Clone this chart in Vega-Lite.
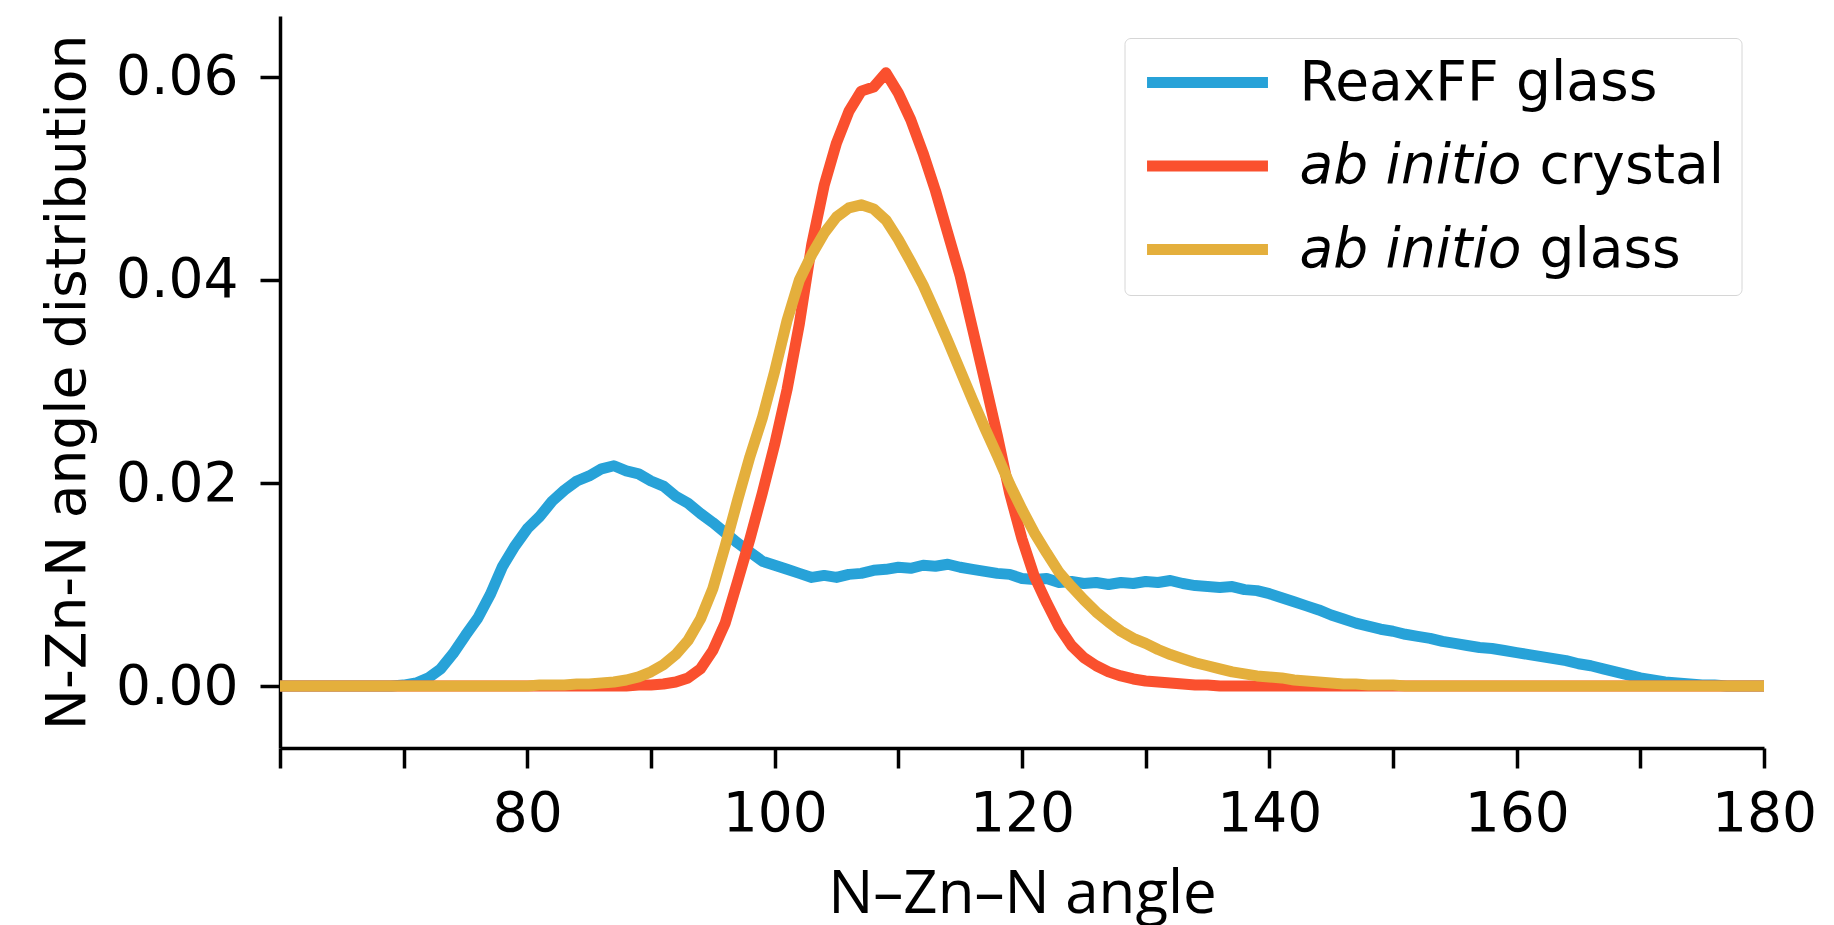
{
  "$schema": "https://vega.github.io/schema/vega-lite/v6.json",
  "width": 1484,
  "height": 732,
  "autosize": {"type": "none"},
  "padding": {"left": 280, "top": 16, "right": 70, "bottom": 177},
  "background": "white",
  "data": {
    "values": [
      {"angle":60,"ReaxFF glass":0,"ab initio crystal":0,"ab initio glass":0},
      {"angle":61,"ReaxFF glass":0,"ab initio crystal":0,"ab initio glass":0},
      {"angle":62,"ReaxFF glass":0,"ab initio crystal":0,"ab initio glass":0},
      {"angle":63,"ReaxFF glass":0,"ab initio crystal":0,"ab initio glass":0},
      {"angle":64,"ReaxFF glass":0,"ab initio crystal":0,"ab initio glass":0},
      {"angle":65,"ReaxFF glass":0,"ab initio crystal":0,"ab initio glass":0},
      {"angle":66,"ReaxFF glass":0,"ab initio crystal":0,"ab initio glass":0},
      {"angle":67,"ReaxFF glass":0,"ab initio crystal":0,"ab initio glass":0},
      {"angle":68,"ReaxFF glass":0,"ab initio crystal":0,"ab initio glass":0},
      {"angle":69,"ReaxFF glass":0,"ab initio crystal":0,"ab initio glass":0},
      {"angle":70,"ReaxFF glass":0.0001,"ab initio crystal":0,"ab initio glass":0},
      {"angle":71,"ReaxFF glass":0.0003,"ab initio crystal":0,"ab initio glass":0},
      {"angle":72,"ReaxFF glass":0.0008,"ab initio crystal":0,"ab initio glass":0},
      {"angle":73,"ReaxFF glass":0.0017,"ab initio crystal":0,"ab initio glass":0},
      {"angle":74,"ReaxFF glass":0.0032,"ab initio crystal":0,"ab initio glass":0},
      {"angle":75,"ReaxFF glass":0.0050,"ab initio crystal":0,"ab initio glass":0},
      {"angle":76,"ReaxFF glass":0.0067,"ab initio crystal":0,"ab initio glass":0},
      {"angle":77,"ReaxFF glass":0.0090,"ab initio crystal":0,"ab initio glass":0},
      {"angle":78,"ReaxFF glass":0.0118,"ab initio crystal":0,"ab initio glass":0},
      {"angle":79,"ReaxFF glass":0.0138,"ab initio crystal":0,"ab initio glass":0},
      {"angle":80,"ReaxFF glass":0.0155,"ab initio crystal":0,"ab initio glass":0},
      {"angle":81,"ReaxFF glass":0.0167,"ab initio crystal":0,"ab initio glass":0.0001},
      {"angle":82,"ReaxFF glass":0.0182,"ab initio crystal":0,"ab initio glass":0.0001},
      {"angle":83,"ReaxFF glass":0.0193,"ab initio crystal":0,"ab initio glass":0.0001},
      {"angle":84,"ReaxFF glass":0.0202,"ab initio crystal":0,"ab initio glass":0.0002},
      {"angle":85,"ReaxFF glass":0.0207,"ab initio crystal":0,"ab initio glass":0.0002},
      {"angle":86,"ReaxFF glass":0.0214,"ab initio crystal":0,"ab initio glass":0.0003},
      {"angle":87,"ReaxFF glass":0.0217,"ab initio crystal":0,"ab initio glass":0.0004},
      {"angle":88,"ReaxFF glass":0.0212,"ab initio crystal":0,"ab initio glass":0.0006},
      {"angle":89,"ReaxFF glass":0.0209,"ab initio crystal":0.0001,"ab initio glass":0.0009},
      {"angle":90,"ReaxFF glass":0.0202,"ab initio crystal":0.0001,"ab initio glass":0.0014},
      {"angle":91,"ReaxFF glass":0.0197,"ab initio crystal":0.0002,"ab initio glass":0.0021},
      {"angle":92,"ReaxFF glass":0.0187,"ab initio crystal":0.0004,"ab initio glass":0.0031},
      {"angle":93,"ReaxFF glass":0.0180,"ab initio crystal":0.0008,"ab initio glass":0.0045},
      {"angle":94,"ReaxFF glass":0.0170,"ab initio crystal":0.0017,"ab initio glass":0.0066},
      {"angle":95,"ReaxFF glass":0.0161,"ab initio crystal":0.0035,"ab initio glass":0.0096},
      {"angle":96,"ReaxFF glass":0.0151,"ab initio crystal":0.0062,"ab initio glass":0.0138},
      {"angle":97,"ReaxFF glass":0.0141,"ab initio crystal":0.0103,"ab initio glass":0.0183},
      {"angle":98,"ReaxFF glass":0.0132,"ab initio crystal":0.0145,"ab initio glass":0.0226},
      {"angle":99,"ReaxFF glass":0.0123,"ab initio crystal":0.0190,"ab initio glass":0.0264},
      {"angle":100,"ReaxFF glass":0.0119,"ab initio crystal":0.0238,"ab initio glass":0.0310},
      {"angle":101,"ReaxFF glass":0.0115,"ab initio crystal":0.0292,"ab initio glass":0.0360},
      {"angle":102,"ReaxFF glass":0.0111,"ab initio crystal":0.0357,"ab initio glass":0.0400},
      {"angle":103,"ReaxFF glass":0.0107,"ab initio crystal":0.0435,"ab initio glass":0.0425},
      {"angle":104,"ReaxFF glass":0.0109,"ab initio crystal":0.0493,"ab initio glass":0.0446},
      {"angle":105,"ReaxFF glass":0.0107,"ab initio crystal":0.0535,"ab initio glass":0.0462},
      {"angle":106,"ReaxFF glass":0.0110,"ab initio crystal":0.0566,"ab initio glass":0.0471},
      {"angle":107,"ReaxFF glass":0.0111,"ab initio crystal":0.0586,"ab initio glass":0.0474},
      {"angle":108,"ReaxFF glass":0.0114,"ab initio crystal":0.0590,"ab initio glass":0.0470},
      {"angle":109,"ReaxFF glass":0.0115,"ab initio crystal":0.0604,"ab initio glass":0.0459},
      {"angle":110,"ReaxFF glass":0.0117,"ab initio crystal":0.0584,"ab initio glass":0.0440},
      {"angle":111,"ReaxFF glass":0.0116,"ab initio crystal":0.0558,"ab initio glass":0.0418},
      {"angle":112,"ReaxFF glass":0.0119,"ab initio crystal":0.0525,"ab initio glass":0.0395},
      {"angle":113,"ReaxFF glass":0.0118,"ab initio crystal":0.0488,"ab initio glass":0.0368},
      {"angle":114,"ReaxFF glass":0.0120,"ab initio crystal":0.0446,"ab initio glass":0.0340},
      {"angle":115,"ReaxFF glass":0.0117,"ab initio crystal":0.0404,"ab initio glass":0.0311},
      {"angle":116,"ReaxFF glass":0.0115,"ab initio crystal":0.0352,"ab initio glass":0.0282},
      {"angle":117,"ReaxFF glass":0.0113,"ab initio crystal":0.0300,"ab initio glass":0.0254},
      {"angle":118,"ReaxFF glass":0.0111,"ab initio crystal":0.0247,"ab initio glass":0.0227},
      {"angle":119,"ReaxFF glass":0.0110,"ab initio crystal":0.0190,"ab initio glass":0.0199},
      {"angle":120,"ReaxFF glass":0.0106,"ab initio crystal":0.0145,"ab initio glass":0.0174},
      {"angle":121,"ReaxFF glass":0.0105,"ab initio crystal":0.0108,"ab initio glass":0.0151},
      {"angle":122,"ReaxFF glass":0.0106,"ab initio crystal":0.0082,"ab initio glass":0.0131},
      {"angle":123,"ReaxFF glass":0.0102,"ab initio crystal":0.0058,"ab initio glass":0.0112},
      {"angle":124,"ReaxFF glass":0.0103,"ab initio crystal":0.0040,"ab initio glass":0.0098},
      {"angle":125,"ReaxFF glass":0.0101,"ab initio crystal":0.0028,"ab initio glass":0.0085},
      {"angle":126,"ReaxFF glass":0.0102,"ab initio crystal":0.0020,"ab initio glass":0.0073},
      {"angle":127,"ReaxFF glass":0.0100,"ab initio crystal":0.0014,"ab initio glass":0.0063},
      {"angle":128,"ReaxFF glass":0.0102,"ab initio crystal":0.0010,"ab initio glass":0.0054},
      {"angle":129,"ReaxFF glass":0.0101,"ab initio crystal":0.0007,"ab initio glass":0.0047},
      {"angle":130,"ReaxFF glass":0.0103,"ab initio crystal":0.0005,"ab initio glass":0.0042},
      {"angle":131,"ReaxFF glass":0.0102,"ab initio crystal":0.0004,"ab initio glass":0.0036},
      {"angle":132,"ReaxFF glass":0.0104,"ab initio crystal":0.0003,"ab initio glass":0.0031},
      {"angle":133,"ReaxFF glass":0.0101,"ab initio crystal":0.0002,"ab initio glass":0.0027},
      {"angle":134,"ReaxFF glass":0.0099,"ab initio crystal":0.0001,"ab initio glass":0.0023},
      {"angle":135,"ReaxFF glass":0.0098,"ab initio crystal":0.0001,"ab initio glass":0.0020},
      {"angle":136,"ReaxFF glass":0.0097,"ab initio crystal":0,"ab initio glass":0.0017},
      {"angle":137,"ReaxFF glass":0.0098,"ab initio crystal":0,"ab initio glass":0.0014},
      {"angle":138,"ReaxFF glass":0.0095,"ab initio crystal":0,"ab initio glass":0.0012},
      {"angle":139,"ReaxFF glass":0.0094,"ab initio crystal":0,"ab initio glass":0.0010},
      {"angle":140,"ReaxFF glass":0.0091,"ab initio crystal":0,"ab initio glass":0.0009},
      {"angle":141,"ReaxFF glass":0.0087,"ab initio crystal":0,"ab initio glass":0.0008},
      {"angle":142,"ReaxFF glass":0.0083,"ab initio crystal":0,"ab initio glass":0.0006},
      {"angle":143,"ReaxFF glass":0.0079,"ab initio crystal":0,"ab initio glass":0.0005},
      {"angle":144,"ReaxFF glass":0.0075,"ab initio crystal":0,"ab initio glass":0.0004},
      {"angle":145,"ReaxFF glass":0.0070,"ab initio crystal":0,"ab initio glass":0.0003},
      {"angle":146,"ReaxFF glass":0.0066,"ab initio crystal":0,"ab initio glass":0.0002},
      {"angle":147,"ReaxFF glass":0.0062,"ab initio crystal":0,"ab initio glass":0.0002},
      {"angle":148,"ReaxFF glass":0.0059,"ab initio crystal":0,"ab initio glass":0.0001},
      {"angle":149,"ReaxFF glass":0.0056,"ab initio crystal":0,"ab initio glass":0.0001},
      {"angle":150,"ReaxFF glass":0.0054,"ab initio crystal":0,"ab initio glass":0.0001},
      {"angle":151,"ReaxFF glass":0.0051,"ab initio crystal":0,"ab initio glass":0},
      {"angle":152,"ReaxFF glass":0.0049,"ab initio crystal":0,"ab initio glass":0},
      {"angle":153,"ReaxFF glass":0.0047,"ab initio crystal":0,"ab initio glass":0},
      {"angle":154,"ReaxFF glass":0.0044,"ab initio crystal":0,"ab initio glass":0},
      {"angle":155,"ReaxFF glass":0.0042,"ab initio crystal":0,"ab initio glass":0},
      {"angle":156,"ReaxFF glass":0.0040,"ab initio crystal":0,"ab initio glass":0},
      {"angle":157,"ReaxFF glass":0.0038,"ab initio crystal":0,"ab initio glass":0},
      {"angle":158,"ReaxFF glass":0.0037,"ab initio crystal":0,"ab initio glass":0},
      {"angle":159,"ReaxFF glass":0.0035,"ab initio crystal":0,"ab initio glass":0},
      {"angle":160,"ReaxFF glass":0.0033,"ab initio crystal":0,"ab initio glass":0},
      {"angle":161,"ReaxFF glass":0.0031,"ab initio crystal":0,"ab initio glass":0},
      {"angle":162,"ReaxFF glass":0.0029,"ab initio crystal":0,"ab initio glass":0},
      {"angle":163,"ReaxFF glass":0.0027,"ab initio crystal":0,"ab initio glass":0},
      {"angle":164,"ReaxFF glass":0.0025,"ab initio crystal":0,"ab initio glass":0},
      {"angle":165,"ReaxFF glass":0.0022,"ab initio crystal":0,"ab initio glass":0},
      {"angle":166,"ReaxFF glass":0.0020,"ab initio crystal":0,"ab initio glass":0},
      {"angle":167,"ReaxFF glass":0.0017,"ab initio crystal":0,"ab initio glass":0},
      {"angle":168,"ReaxFF glass":0.0014,"ab initio crystal":0,"ab initio glass":0},
      {"angle":169,"ReaxFF glass":0.0011,"ab initio crystal":0,"ab initio glass":0},
      {"angle":170,"ReaxFF glass":0.0008,"ab initio crystal":0,"ab initio glass":0},
      {"angle":171,"ReaxFF glass":0.0006,"ab initio crystal":0,"ab initio glass":0},
      {"angle":172,"ReaxFF glass":0.0004,"ab initio crystal":0,"ab initio glass":0},
      {"angle":173,"ReaxFF glass":0.0003,"ab initio crystal":0,"ab initio glass":0},
      {"angle":174,"ReaxFF glass":0.0002,"ab initio crystal":0,"ab initio glass":0},
      {"angle":175,"ReaxFF glass":0.0001,"ab initio crystal":0,"ab initio glass":0},
      {"angle":176,"ReaxFF glass":0.0001,"ab initio crystal":0,"ab initio glass":0},
      {"angle":177,"ReaxFF glass":0,"ab initio crystal":0,"ab initio glass":0},
      {"angle":178,"ReaxFF glass":0,"ab initio crystal":0,"ab initio glass":0},
      {"angle":179,"ReaxFF glass":0,"ab initio crystal":0,"ab initio glass":0},
      {"angle":180,"ReaxFF glass":0,"ab initio crystal":0,"ab initio glass":0}
    ]
  },
  "transform": [
    {"fold": ["ReaxFF glass", "ab initio crystal", "ab initio glass"], "as": ["series", "p"]}
  ],
  "encoding": {
    "x": {
      "field": "angle",
      "type": "quantitative",
      "scale": {"domain": [60, 180], "nice": false, "zero": false},
      "axis": {
        "title": "N–Zn–N angle",
        "values": [60, 70, 80, 90, 100, 110, 120, 130, 140, 150, 160, 170, 180],
        "labelExpr": "datum.value % 20 == 0 && datum.value > 60 ? datum.label : ''",
        "format": "d",
        "labelFlush": false,
        "labelOverlap": false,
        "labelPadding": 19,
        "titleFont": "Open Sans",
        "titleFontSize": 60,
        "titlePadding": 24
      }
    },
    "y": {
      "field": "p",
      "type": "quantitative",
      "scale": {"domain": [-0.0061, 0.066], "nice": false, "zero": false},
      "axis": {
        "title": "N-Zn-N angle distribution",
        "values": [0, 0.02, 0.04, 0.06],
        "format": ".2f",
        "labelPadding": 22,
        "titleFont": "DejaVu Sans",
        "titleFontSize": 55,
        "titlePadding": 19
      }
    }
  },
  "layer": [
    {
      "mark": {"type": "line", "strokeWidth": 11, "strokeJoin": "round", "strokeCap": "butt"},
      "encoding": {
        "color": {
          "field": "series",
          "type": "nominal",
          "scale": {
            "domain": ["ReaxFF glass", "ab initio crystal", "ab initio glass"],
            "range": ["#27A2D8", "#FA502E", "#E4AF3C"]
          },
          "legend": {
            "title": null,
            "orient": "none",
            "legendX": 844.5,
            "legendY": 22,
            "padding": 17,
            "rowPadding": 27.5,
            "symbolType": "M-4.1,0H4.1",
            "symbolSize": 870,
            "symbolStrokeWidth": 11,
            "symbolOffset": 38.5,
            "labelOffset": 64.5,
            "labelFont": "DejaVu Sans",
            "labelFontSize": 55,
            "labelColor": "#000",
            "labelLimit": 1000,
            "labelFontStyle": {"expr": "datum.value == 'ReaxFF glass' ? 'normal' : 'italic'"},
            "labelExpr": "datum.value == 'ReaxFF glass' ? datum.label : 'ab initio'"
          }
        }
      }
    },
    {
      "transform": [{"filter": "datum.angle == 180"}],
      "mark": {"type": "point", "opacity": 0},
      "encoding": {
        "shape": {
          "field": "series",
          "type": "nominal",
          "scale": {
            "domain": ["ReaxFF glass", "ab initio crystal", "ab initio glass", "none"],
            "range": ["M-4.1,0H4.1", "M-4.1,0H4.1", "M-4.1,0H4.1", "M-4.1,0H4.1"]
          },
          "legend": {
            "title": null,
            "values": ["ReaxFF glass", "ab initio crystal", "ab initio glass"],
            "orient": "none",
            "legendX": 844.5,
            "legendY": 22,
            "padding": 17,
            "rowPadding": 27.5,
            "strokeColor": "#d6d6d6",
            "cornerRadius": 6,
            "symbolSize": 870,
            "symbolStrokeWidth": 11,
            "symbolOffset": 38.5,
            "symbolOpacity": 0,
            "labelOffset": 304.5,
            "labelFont": "DejaVu Sans",
            "labelFontSize": 55,
            "labelColor": "#000",
            "labelLimit": 1000,
            "labelExpr": "datum.value == 'ab initio crystal' ? 'crystal' : (datum.value == 'ab initio glass' ? 'glass' : '\u00a0')",
            "encode": {"legend": {"strokeWidth": {"value": 3}}}
          }
        }
      }
    }
  ],
  "config": {
    "view": {"stroke": null},
    "axis": {
      "grid": false,
      "domainColor": "#000",
      "domainWidth": 3.5,
      "tickColor": "#000",
      "tickWidth": 3.5,
      "tickSize": 20,
      "labelFont": "DejaVu Sans",
      "labelFontSize": 55,
      "labelColor": "#000",
      "titleColor": "#000",
      "titleFontWeight": "normal"
    }
  }
}
